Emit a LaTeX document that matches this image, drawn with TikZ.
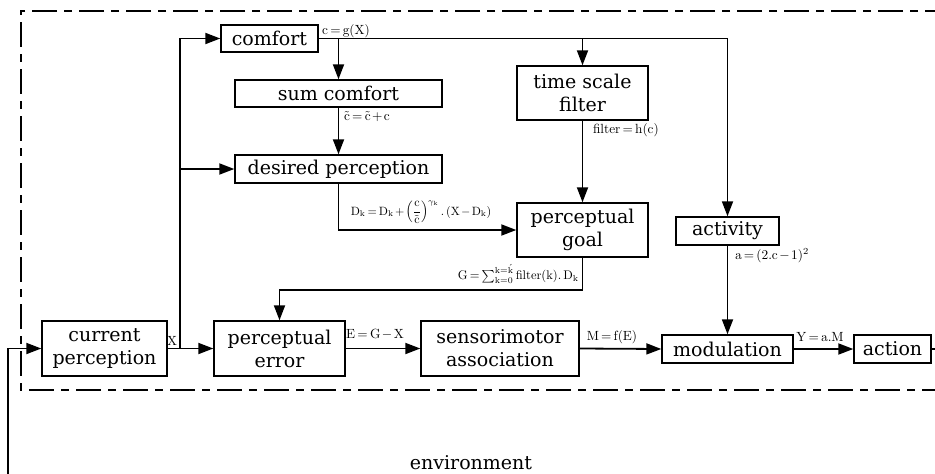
\documentclass[tikz,border=0pt]{standalone}
\usepackage[no-math]{fontspec}
\setmainfont{DejaVu Serif}
\usetikzlibrary{arrows.meta}
\newcommand\mylabfont{\fontsize{10}{12}\selectfont\thickmuskip=3mu\relax\medmuskip=2mu\relax}
\newcommand\lbl[2][1.33]{\scalebox{#1}{$\mathrm{#2}$}}
\begin{document}
\begin{tikzpicture}[x=1pt,y=-1pt,
  box/.style={draw, line width=1.4pt, inner sep=0pt, align=center, font=\fontsize{19}{23}\selectfont},
  lab/.style={inner sep=0pt, font=\mylabfont},
  conn/.style={line width=1.8pt},
  arr/.style={conn, -{Triangle[length=15pt,width=11pt]}},
  border/.style={line width=1.8pt, dash pattern=on 25pt off 7pt on 8pt off 7pt}]
\useasboundingbox (0,0) rectangle (935,474);
\clip (0,0) rectangle (935,474);
\draw[border] (950,11) -- (21,11) -- (21,390) -- (950,390);
% boxes
\node[box, minimum width=97pt, minimum height=27pt] (comfort) at (269.5,38.5) {comfort};
\node[box, minimum width=207pt, minimum height=27pt] (sumc) at (338.5,93.5) {sum comfort};
\node[box, minimum width=207pt, minimum height=28pt] (desired) at (338.5,169) {desired perception};
\node[box, minimum width=131pt, minimum height=54pt] (tsf) at (582.5,93) {time scale\\filter};
\node[box, minimum width=131pt, minimum height=54pt] (goal) at (582.5,230) {perceptual\\goal};
\node[box, minimum width=103pt, minimum height=28pt] (activity) at (727.5,231) {activity};
\node[box, minimum width=125pt, minimum height=55pt] (current) at (104.5,348.5) {current\\perception};
\node[box, minimum width=131pt, minimum height=55pt] (error) at (279.5,348.5) {perceptual\\error};
\node[box, minimum width=158pt, minimum height=55pt] (sensori) at (500,348.5) {sensorimotor\\association};
\node[box, minimum width=131pt, minimum height=28pt] (modul) at (727.5,349) {modulation};
\node[box, minimum width=77pt, minimum height=28pt] (action) at (892.5,349) {action};
\node[inner sep=0pt, font=\fontsize{19}{23}\selectfont] (env) at (471,463) {environment};
% coordinates
\coordinate (xb) at (180,348.5);
\coordinate (envs) at (8,480);
\coordinate (actout) at (945,349);
\coordinate (gcorner) at (582.5,290);
\coordinate (ecorner) at (279.5,290);
% connectors
\draw[arr] (envs) |- (current.west);
\draw[arr] (current.east) -- (error.west);
\draw[arr] (xb) |- (comfort.west);
\draw[arr] (xb |- desired.west) -- (desired.west);
\draw[arr] (comfort.east) -| (activity.north);
\draw[arr] (sumc.north |- comfort.east) -- (sumc.north);
\draw[arr] (tsf.north |- comfort.east) -- (tsf.north);
\draw[arr] (sumc.south) -- (desired.north);
\draw[arr] (tsf.south) -- (goal.north);
\draw[arr] (desired.south) |- (goal.west);
\draw[arr] (goal.south) -- (gcorner) -- (ecorner) -- (error.north);
\draw[arr] (error.east) -- (sensori.west);
\draw[arr] (sensori.east) -- (modul.west);
\draw[arr] (activity.south) -- (modul.north);
\draw[arr] (modul.east) -- (action.west);
\draw[conn] (action.east) -- (actout);
% labels
\node[lab] (lx) at (172,341) {\lbl{X}};
\node[lab] (lcg) at (346,31) {\lbl{c=g(X)}};
\node[lab] (lsum) at (367,117) {\lbl{\tilde{c}=\tilde{c}+c}};
\node[lab] (lfil) at (626,130) {\lbl{filter=h(c)}};
\node[lab] (ldk) at (421,212) {\lbl[1.2]{D_k=D_k+\left({\displaystyle\frac{c}{\tilde{c}}}\right)^{\gamma_k}.\,(X-D_k)}};
\node[lab, anchor=east] (lg) at (579,274) {\lbl[1.25]{G=\sum\nolimits_{k=0}^{k=\acute{k}} filter(k).\,D_k}};
\node[lab] (le) at (375,335) {\lbl{E=G-X}};
\node[lab] (lm) at (612,337) {\lbl{M=f(E)}};
\node[lab] (la) at (772,256) {\lbl{a=(2.c-1)^2}};
\node[lab] (ly) at (820,337) {\lbl{Y=a.M}};
\end{tikzpicture}
\end{document}
